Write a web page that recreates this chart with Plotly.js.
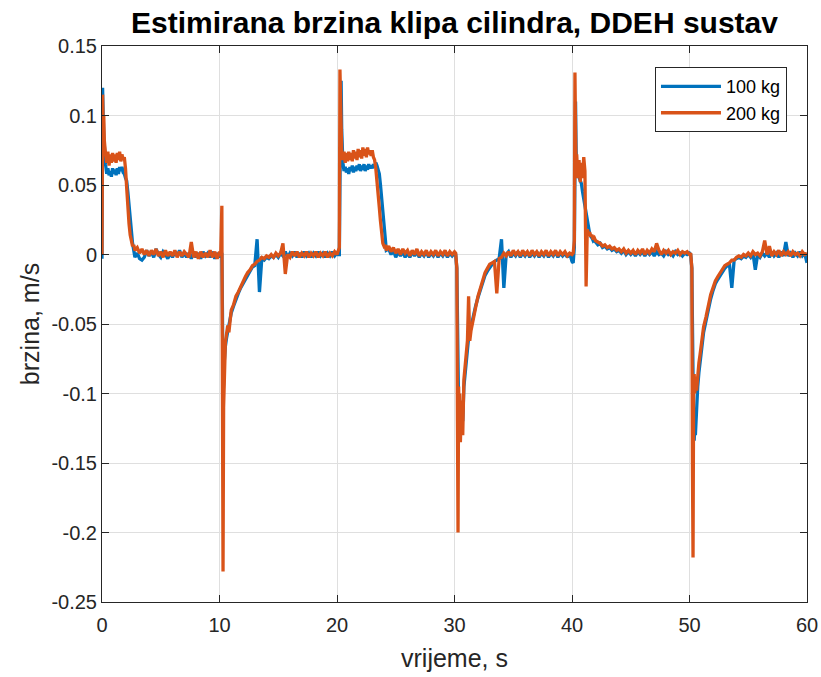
<!DOCTYPE html>
<html>
<head>
<meta charset="utf-8">
<script src="https://cdn.plot.ly/plotly-3.0.1.min.js"></script>
<style>html,body{margin:0;padding:0;background:#fff;}#chart{width:821px;height:677px;}</style>
</head>
<body>
<div id="chart"></div>
<script>
// ---- Data ----
var seriesNames = ['100 kg', '200 kg'];

// time, s (segment A: 0 - 10.1)
var tA = [0, 0.05, 0.1, 0.15, 0.2, 0.3, 0.4, 0.5, 0.6, 0.7,
  0.8, 0.9, 1.0, 1.1, 1.2, 1.3, 1.4, 1.5, 1.6, 1.7,
  1.8, 1.9, 2.0, 2.1, 2.2, 2.3, 2.4, 2.5, 2.6, 2.7,
  2.8, 3.0, 3.2, 3.4, 3.6, 3.8, 4.0, 4.2, 4.4, 4.6,
  4.8, 5.0, 5.2, 5.4, 5.6, 5.8, 6.0, 6.2, 6.4, 6.6,
  6.8, 7.0, 7.2, 7.4, 7.6, 7.8, 8.0, 8.2, 8.4, 8.6,
  8.8, 9.0, 9.2, 9.4, 9.6, 9.8, 10.0, 10.1];
var bA = [-0.003, 0.120, 0.100, 0.085, 0.075, 0.065, 0.058, 0.062, 0.057, 0.060,
  0.056, 0.062, 0.058, 0.061, 0.057, 0.062, 0.058, 0.063, 0.060, 0.063,
  0.059, 0.058, 0.055, 0.053, 0.045, 0.034, 0.024, 0.015, 0.008, 0.003,
  -0.002, 0.001, -0.003, -0.004, -0.002, 0.003, -0.001, 0.002, -0.002, 0.004,
  0.000, -0.002, 0.002, 0.000, -0.003, 0.001, -0.002, 0.002, -0.001, 0.003,
  -0.002, 0.001, -0.002, 0.001, -0.003, 0.002, -0.002, 0.001, -0.003, 0.002,
  -0.001, 0.001, -0.002, 0.002, -0.003, 0.001, -0.002, 0.000];
var oA = [0.000, 0.115, 0.092, 0.100, 0.082, 0.072, 0.066, 0.074, 0.064, 0.072,
  0.066, 0.073, 0.067, 0.072, 0.066, 0.073, 0.068, 0.074, 0.067, 0.072,
  0.068, 0.070, 0.062, 0.048, 0.033, 0.022, 0.014, 0.010, 0.006, 0.007,
  0.003, 0.005, 0.001, 0.004, 0.000, 0.003, -0.001, 0.003, 0.000, 0.004,
  -0.001, 0.002, -0.002, 0.003, -0.001, 0.002, -0.001, 0.003, -0.002, 0.002,
  -0.001, 0.002, 0.000, -0.002, 0.009, -0.002, 0.002, -0.003, 0.002, -0.002,
  0.001, -0.002, 0.003, -0.002, 0.002, -0.003, 0.002, -0.001];

// segment B: 10.2 - 20.1
var tB = [10.2, 10.25, 10.3, 10.35, 10.4, 10.45, 10.5, 10.6, 10.7, 10.8,
  10.9, 11.0, 11.2, 11.4, 11.6, 11.8, 12.0, 12.2, 12.4, 12.6,
  12.8, 13.0, 13.2, 13.4, 13.6, 13.8, 14.0, 14.2, 14.4, 14.6,
  14.8, 15.0, 15.2, 15.4, 15.6, 15.8, 16.0, 16.2, 16.4, 16.6,
  16.8, 17.0, 17.2, 17.4, 17.6, 17.8, 18.0, 18.2, 18.4, 18.6,
  18.8, 19.0, 19.2, 19.4, 19.6, 19.8, 20.0, 20.1];
var bB = [0.000, -0.040, -0.103, -0.092, -0.078, -0.070, -0.066, -0.060, -0.055, -0.050,
  -0.046, -0.042, -0.037, -0.032, -0.028, -0.024, -0.021, -0.017, -0.014, -0.012,
  -0.009, -0.008, 0.011, -0.027, -0.003, -0.004, -0.002, -0.003, -0.001, -0.002,
  0.000, -0.002, 0.001, -0.001, 0.002, -0.002, 0.001, -0.001, 0.002, -0.002,
  0.001, -0.002, 0.002, -0.001, 0.001, -0.002, 0.001, -0.001, 0.002, -0.001,
  0.001, -0.002, 0.001, -0.001, 0.002, -0.001, 0.001, 0.000];
var oB = [0.035, -0.060, -0.228, -0.110, -0.085, -0.070, -0.063, -0.057, -0.051, -0.056,
  -0.045, -0.040, -0.036, -0.030, -0.027, -0.023, -0.020, -0.016, -0.013, -0.011,
  -0.008, -0.007, -0.005, -0.004, -0.002, -0.003, -0.001, -0.002, 0.000, -0.002,
  0.001, -0.001, 0.001, 0.008, -0.014, 0.000, -0.002, 0.002, -0.001, 0.002,
  -0.002, 0.001, -0.001, 0.002, -0.002, 0.001, -0.001, 0.002, -0.002, 0.001,
  -0.001, 0.002, -0.002, 0.001, -0.001, 0.002, 0.000, 0.002];

// segment C: 20.2 - 30.1
var tC = [20.2, 20.25, 20.3, 20.35, 20.4, 20.5, 20.6, 20.7, 20.8, 20.9,
  21.0, 21.1, 21.2, 21.3, 21.4, 21.5, 21.6, 21.7, 21.8, 21.9,
  22.0, 22.1, 22.2, 22.3, 22.4, 22.5, 22.6, 22.7, 22.8, 22.9,
  23.0, 23.1, 23.2, 23.3, 23.4, 23.5, 23.6, 23.7, 23.8, 23.9,
  24.0, 24.1, 24.2, 24.4, 24.6, 24.8, 25.0, 25.2, 25.4, 25.6,
  25.8, 26.0, 26.2, 26.4, 26.6, 26.8, 27.0, 27.2, 27.4, 27.6,
  27.8, 28.0, 28.2, 28.4, 28.6, 28.8, 29.0, 29.2, 29.4, 29.6,
  29.8, 30.0, 30.1];
var bC = [0.000, 0.050, 0.090, 0.125, 0.090, 0.066, 0.060, 0.063, 0.059, 0.062,
  0.058, 0.063, 0.060, 0.064, 0.059, 0.063, 0.060, 0.064, 0.061, 0.065,
  0.060, 0.064, 0.061, 0.065, 0.060, 0.064, 0.061, 0.065, 0.062, 0.064,
  0.062, 0.065, 0.063, 0.066, 0.064, 0.061, 0.058, 0.050, 0.040, 0.030,
  0.020, 0.010, 0.003, 0.004, 0.000, 0.003, -0.002, 0.002, -0.001, 0.002,
  -0.002, 0.001, -0.002, 0.002, -0.001, 0.002, -0.002, 0.001, -0.001, 0.002,
  -0.002, 0.001, -0.001, 0.002, -0.002, 0.001, -0.001, 0.002, -0.002, 0.001,
  -0.001, 0.001, 0.000];
var oC = [0.005, 0.133, 0.110, 0.085, 0.075, 0.068, 0.074, 0.066, 0.073, 0.067,
  0.074, 0.068, 0.073, 0.067, 0.075, 0.069, 0.074, 0.068, 0.076, 0.070,
  0.075, 0.069, 0.077, 0.071, 0.076, 0.070, 0.077, 0.072, 0.075, 0.071,
  0.075, 0.070, 0.068, 0.062, 0.054, 0.044, 0.034, 0.024, 0.015, 0.008,
  0.006, 0.007, 0.003, 0.006, 0.002, 0.005, 0.001, 0.004, 0.000, 0.004,
  0.001, 0.003, -0.001, 0.003, 0.000, 0.004, -0.001, 0.002, 0.000, 0.003,
  -0.001, 0.002, 0.000, 0.003, -0.001, 0.002, 0.000, 0.003, -0.001, 0.002,
  0.000, 0.002, 0.001];

// segment D: 30.2 - 40.1
var tD = [30.2, 30.25, 30.3, 30.35, 30.4, 30.45, 30.5, 30.6, 30.7, 30.8,
  30.9, 31.0, 31.1, 31.2, 31.3, 31.4, 31.5, 31.6, 31.8, 32.0,
  32.2, 32.4, 32.6, 32.8, 33.0, 33.2, 33.4, 33.6, 33.8, 34.0,
  34.2, 34.4, 34.6, 34.8, 35.0, 35.2, 35.4, 35.6, 35.8, 36.0,
  36.2, 36.4, 36.6, 36.8, 37.0, 37.2, 37.4, 37.6, 37.8, 38.0,
  38.2, 38.4, 38.6, 38.8, 39.0, 39.2, 39.4, 39.6, 39.8, 40.0,
  40.1];
var bD = [-0.010, -0.060, -0.100, -0.110, -0.120, -0.128, -0.125, -0.115, -0.120, -0.095,
  -0.085, -0.075, -0.066, -0.060, -0.056, -0.052, -0.048, -0.044, -0.037, -0.031,
  -0.025, -0.020, -0.015, -0.012, -0.009, -0.007, -0.005, -0.004, -0.003, 0.011,
  -0.024, 0.000, 0.002, -0.002, 0.001, -0.001, 0.002, -0.002, 0.001, -0.001,
  0.002, -0.002, 0.001, -0.001, 0.002, -0.002, 0.001, -0.001, 0.002, -0.002,
  0.001, -0.001, 0.002, -0.002, 0.001, -0.001, 0.001, -0.002, 0.001, -0.005,
  -0.006];
var oD = [-0.010, -0.120, -0.200, -0.095, -0.125, -0.100, -0.135, -0.105, -0.130, -0.090,
  -0.080, -0.070, -0.062, -0.030, -0.062, -0.055, -0.050, -0.045, -0.038, -0.030,
  -0.024, -0.018, -0.013, -0.010, -0.007, -0.006, -0.005, -0.028, -0.003, -0.002,
  0.001, -0.001, 0.002, -0.001, 0.003, 0.000, 0.002, -0.001, 0.003, 0.000,
  0.002, -0.001, 0.003, 0.000, 0.002, -0.001, 0.002, 0.000, 0.003, -0.001,
  0.002, 0.000, 0.003, -0.001, 0.002, 0.000, 0.002, -0.001, 0.001, 0.000,
  0.001];

// segment E: 40.2 - 50.1
var tE = [40.2, 40.25, 40.3, 40.35, 40.4, 40.5, 40.6, 40.7, 40.8, 40.9,
  41.0, 41.1, 41.2, 41.3, 41.4, 41.5, 41.6, 41.7, 41.8, 41.9,
  42.0, 42.2, 42.4, 42.6, 42.8, 43.0, 43.2, 43.4, 43.6, 43.8,
  44.0, 44.2, 44.4, 44.6, 44.8, 45.0, 45.2, 45.4, 45.6, 45.8,
  46.0, 46.2, 46.4, 46.6, 46.8, 47.0, 47.2, 47.4, 47.6, 47.8,
  48.0, 48.2, 48.4, 48.6, 48.8, 49.0, 49.2, 49.4, 49.6, 49.8,
  50.0, 50.1];
var bE = [0.005, 0.090, 0.110, 0.075, 0.060, 0.058, 0.056, 0.054, 0.051, 0.045,
  0.040, 0.035, 0.030, 0.024, 0.019, 0.015, 0.013, 0.012, 0.010, 0.011,
  0.009, 0.007, 0.008, 0.005, 0.006, 0.004, 0.005, 0.003, 0.004, 0.002,
  0.003, 0.001, 0.003, 0.000, 0.002, 0.000, 0.002, -0.001, 0.002, 0.000,
  0.002, -0.001, 0.002, 0.000, 0.002, -0.001, 0.002, 0.000, 0.001, -0.001,
  0.002, 0.000, 0.001, -0.001, 0.002, 0.000, 0.001, -0.001, 0.001, 0.000,
  0.001, 0.000];
var oE = [0.010, 0.131, 0.090, 0.060, 0.072, 0.055, 0.068, 0.052, 0.066, 0.055,
  0.070, 0.060, -0.023, 0.018, 0.015, 0.016, 0.013, 0.014, 0.011, 0.012,
  0.010, 0.009, 0.008, 0.006, 0.007, 0.005, 0.006, 0.004, 0.005, 0.003,
  0.004, 0.002, 0.004, 0.001, 0.003, 0.001, 0.003, 0.000, 0.003, 0.001,
  0.004, 0.000, 0.003, 0.001, 0.004, 0.002, 0.008, 0.003, 0.000, 0.003,
  0.001, 0.003, 0.000, 0.002, 0.001, 0.003, 0.000, 0.002, 0.001, 0.002,
  0.000, 0.001];

// segment F: 50.2 - 60
var tF = [50.2, 50.25, 50.3, 50.35, 50.4, 50.45, 50.5, 50.6, 50.7, 50.8,
  50.9, 51.0, 51.1, 51.2, 51.4, 51.6, 51.8, 52.0, 52.2, 52.4,
  52.6, 52.8, 53.0, 53.2, 53.4, 53.6, 53.8, 54.0, 54.2, 54.4,
  54.6, 54.8, 55.0, 55.2, 55.4, 55.6, 55.8, 56.0, 56.2, 56.4,
  56.6, 56.8, 57.0, 57.2, 57.4, 57.6, 57.8, 58.0, 58.2, 58.4,
  58.6, 58.8, 59.0, 59.2, 59.4, 59.6, 59.8, 60.0];
var bF = [-0.010, -0.080, -0.110, -0.125, -0.134, -0.120, -0.130, -0.110, -0.095, -0.085,
  -0.077, -0.069, -0.062, -0.056, -0.048, -0.039, -0.032, -0.026, -0.021, -0.018,
  -0.015, -0.012, -0.010, -0.008, -0.007, -0.024, -0.004, -0.003, -0.002, -0.003,
  -0.001, -0.002, 0.000, -0.002, 0.001, -0.011, 0.000, -0.002, 0.001, -0.001,
  0.001, -0.002, 0.002, -0.001, 0.001, -0.002, 0.002, -0.001, 0.009, -0.001,
  0.001, -0.002, 0.001, -0.001, 0.002, -0.001, 0.001, -0.006];
var oF = [-0.010, -0.150, -0.218, -0.100, -0.086, -0.100, -0.088, -0.098, -0.085, -0.078,
  -0.072, -0.065, -0.058, -0.052, -0.045, -0.036, -0.029, -0.024, -0.019, -0.016,
  -0.013, -0.010, -0.008, -0.007, -0.006, -0.004, -0.004, -0.002, -0.001, -0.002,
  0.000, -0.001, 0.001, -0.001, 0.002, 0.000, 0.001, -0.001, 0.002, 0.010,
  0.000, 0.006, -0.001, 0.002, 0.000, 0.003, -0.001, 0.002, 0.000, 0.002,
  -0.001, 0.002, 0.000, 0.001, -0.001, 0.002, 0.000, 0.001];

// axis ticks
var xTickVals = [0, 10, 20, 30, 40, 50, 60];
var xTickText = ['0', '10', '20', '30', '40', '50', '60'];
var yTickVals = [-0.25, -0.2, -0.15, -0.1, -0.05, 0, 0.05, 0.1, 0.15];
var yTickText = ['-0.25', '-0.2', '-0.15', '-0.1', '-0.05', '0', '0.05', '0.1', '0.15'];

// ---- Build ----
var time = [].concat(tA, tB, tC, tD, tE, tF);
var v100 = [].concat(bA, bB, bC, bD, bE, bF);
var v200 = [].concat(oA, oB, oC, oD, oE, oF);

var FONT = 'Liberation Sans, Arial, Helvetica, sans-serif';
var INK = '#262626';

var traces = [
  {x: time, y: v100, type: 'scatter', mode: 'lines', name: seriesNames[0],
   line: {color: '#0072BD', width: 3.3}},
  {x: time, y: v200, type: 'scatter', mode: 'lines', name: seriesNames[1],
   line: {color: '#D95319', width: 3.3}}
];

var axisCommon = {
  showgrid: true, gridcolor: '#dfdfdf', gridwidth: 1,
  showline: true, linecolor: INK, linewidth: 1, mirror: 'ticks',
  ticks: 'inside', ticklen: 7, tickcolor: INK, tickwidth: 1,
  zeroline: false, automargin: false,
  tickfont: {family: FONT, size: 20, color: INK}
};

var layout = {
  width: 821, height: 677,
  margin: {l: 102, r: 14, t: 46, b: 75},
  paper_bgcolor: '#ffffff', plot_bgcolor: '#ffffff',
  font: {family: FONT, color: INK},
  title: {text: '<b>Estimirana brzina klipa cilindra, DDEH sustav</b>',
    font: {family: FONT, size: 30, color: '#000000'},
    xref: 'paper', x: 0.5, xanchor: 'center',
    yref: 'container', y: 0.967, yanchor: 'middle'},
  xaxis: Object.assign({}, axisCommon, {
    range: [0, 60], tickmode: 'array', tickvals: xTickVals, ticktext: xTickText,
    ticklabelstandoff: 5,
    title: {text: 'vrijeme, s', font: {family: FONT, size: 25, color: INK}, standoff: 14}
  }),
  yaxis: Object.assign({}, axisCommon, {
    range: [-0.25, 0.15], tickmode: 'array', tickvals: yTickVals, ticktext: yTickText,
    title: {text: 'brzina, m/s', font: {family: FONT, size: 25, color: INK}, standoff: 4}
  }),
  showlegend: true,
  legend: {x: 0.9716, xanchor: 'right', y: 0.962, yanchor: 'top',
    bgcolor: '#ffffff', bordercolor: INK, borderwidth: 1,
    font: {family: FONT, size: 18, color: '#000000'}, itemwidth: 60,
    tracegroupgap: 0}
};

Plotly.newPlot('chart', traces, layout, {displayModeBar: false, staticPlot: true});
</script>
</body>
</html>
